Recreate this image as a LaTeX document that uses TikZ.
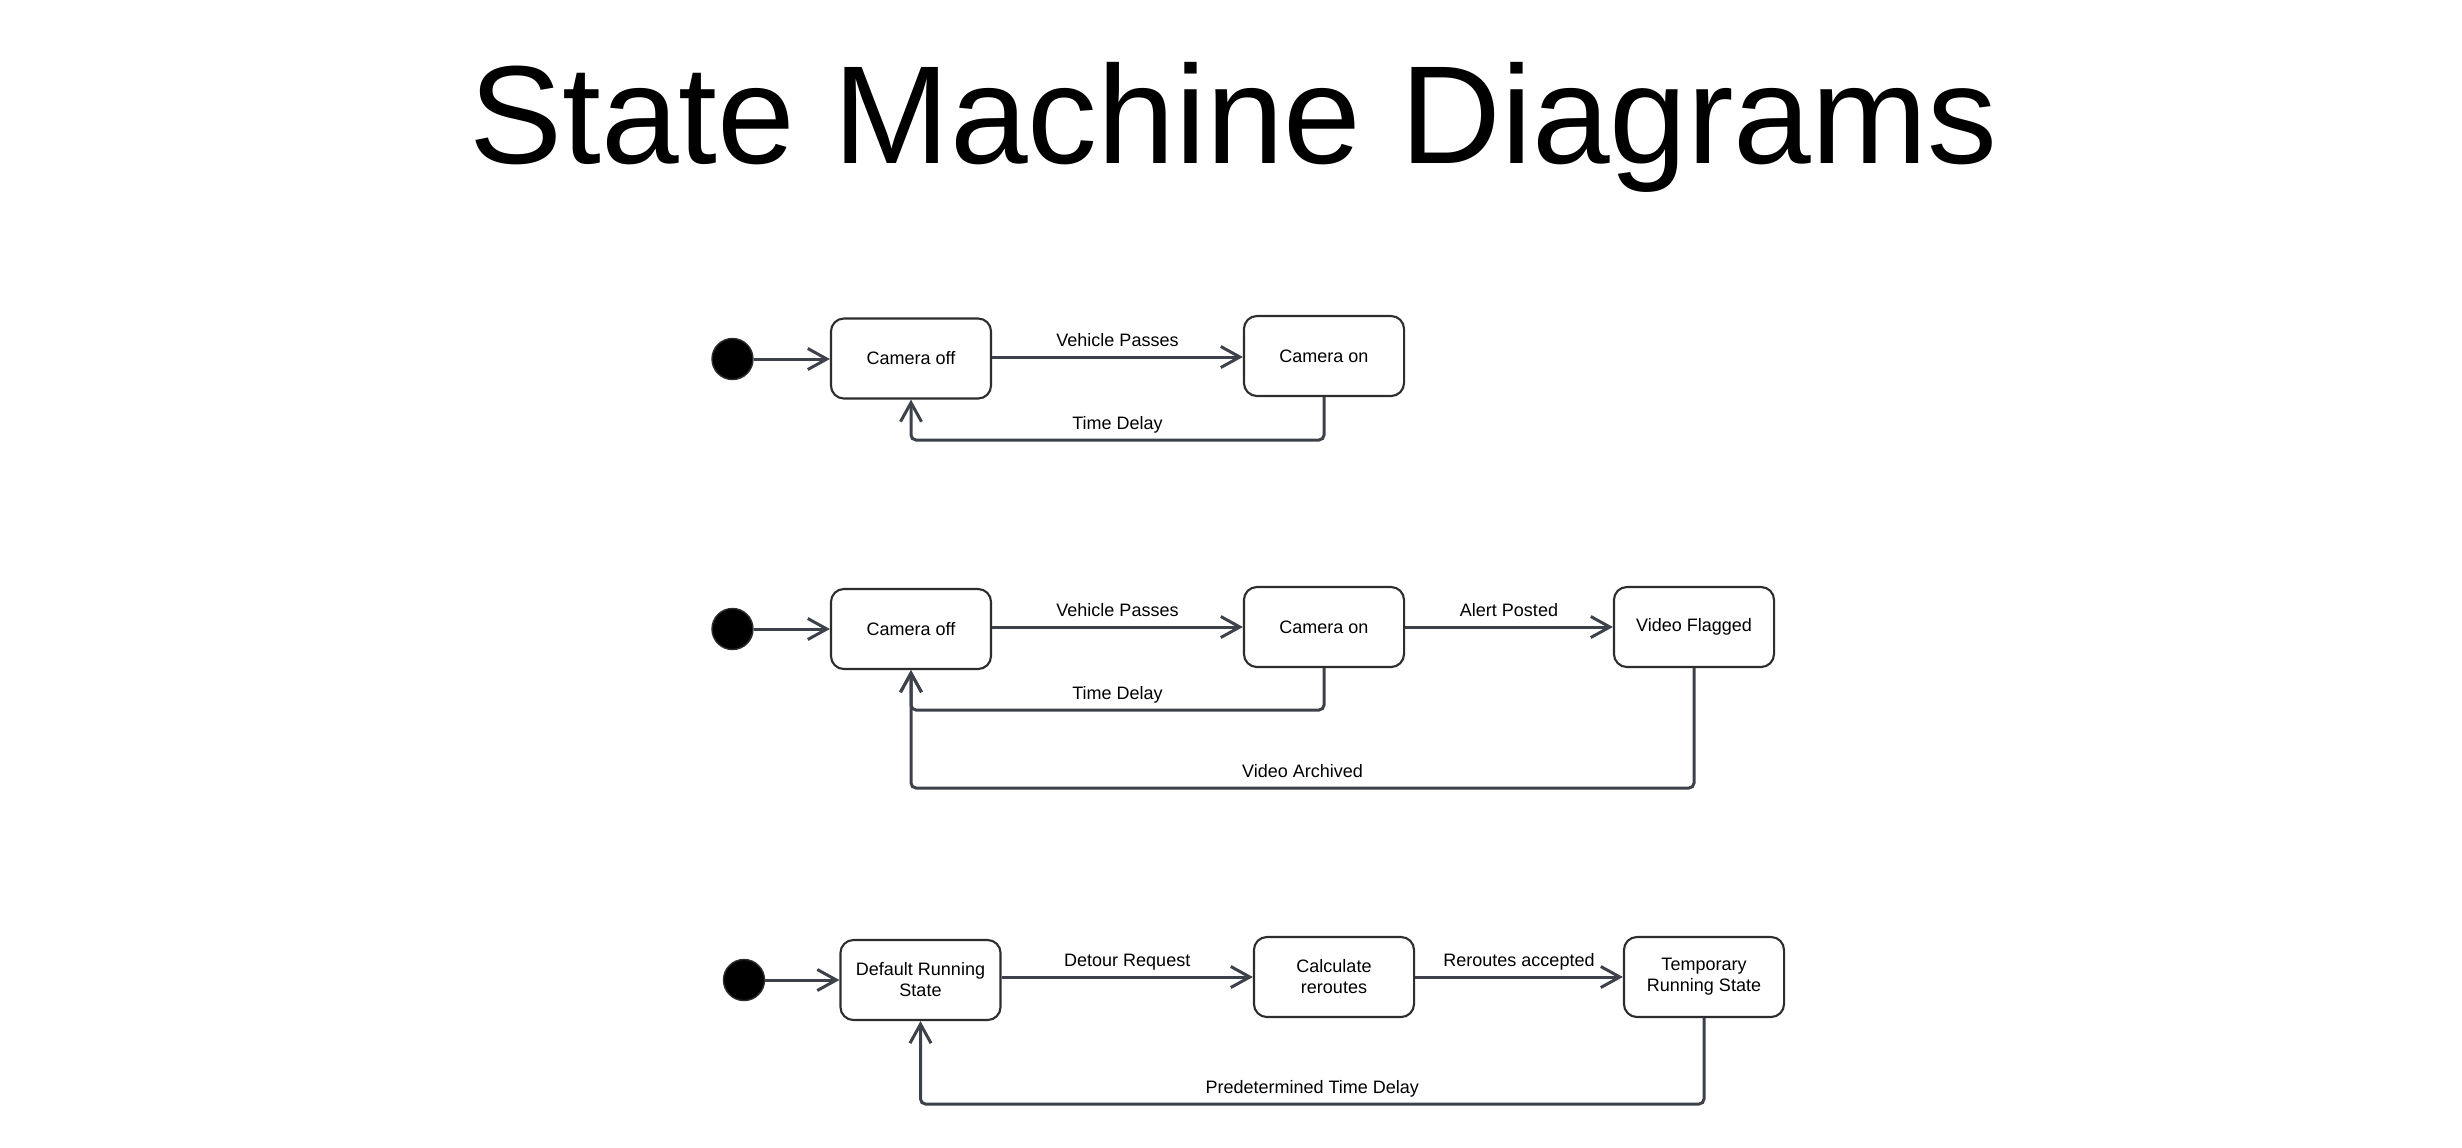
\documentclass[tikz,border=0pt]{standalone}
\usepackage{fontspec}
\setmainfont{Liberation Sans}
\usetikzlibrary{arrows.meta}
\definecolor{linec}{RGB}{60,65,74}
\definecolor{boxc}{RGB}{45,45,48}
\begin{document}
\begin{tikzpicture}[x=0.01cm,y=-0.01cm,
  state/.style={draw=boxc, line width=0.6pt, rounded corners=0.13cm,
    minimum width=1.6cm, minimum height=0.8cm, inner sep=0pt, align=center,
    font=\fontsize{5.12pt}{5.97pt}\selectfont, text=black},
  init/.style={circle, fill=black, draw=boxc, line width=0.4pt,
    minimum size=0.41cm, inner sep=0pt},
  conn/.style={draw=linec, line width=0.85pt,
    -{Straight Barb[length=0.19cm,width=0.21cm]}, rounded corners=0.05cm},
  lbl/.style={font=\fontsize{5.12pt}{6pt}\selectfont, inner sep=0pt,
    text=black, anchor=base, yshift=0.11cm},
]
\useasboundingbox (0,0) rectangle (2462,1147);
\fill[white] (0,0) rectangle (2462,1147);

\node[anchor=base, inner sep=0pt, font=\fontsize{39.7pt}{44pt}\selectfont]
  (title) at (1233.5,163) {State Machine Diagrams};

% ---- Diagram 1
\node[init] (i1) at (732.5,359) {};
\node[state] (d1off) at (911,358.5) {Camera off};
\node[state] (d1on) at (1324,356) {Camera on};
\coordinate (r1) at (0,440);
\draw[conn] (i1) -- (i1 -| d1off.west);
\draw[conn] (d1off.east |- 0,357) -- node[lbl] {Vehicle Passes} (d1on.west |- 0,357);
\draw[conn] (d1on.south) -- (d1on.south |- r1) -- node[lbl] {Time Delay} (d1off.south |- r1) -- (d1off.south);

% ---- Diagram 2
\node[init] (i2) at (732.5,629) {};
\node[state] (d2off) at (911,629) {Camera off};
\node[state] (d2on) at (1324,627) {Camera on};
\node[state] (d2flag) at (1694,627) {Video Flagged};
\coordinate (r2) at (0,710);
\coordinate (r3) at (0,788);
\draw[conn] (i2) -- (i2 -| d2off.west);
\draw[conn] (d2off.east |- d2on.west) -- node[lbl] {Vehicle Passes} (d2on.west);
\draw[conn] (d2on.east) -- node[lbl] {Alert Posted} (d2flag.west);
\draw[conn] (d2on.south) -- (d2on.south |- r2) -- node[lbl] {Time Delay} (d2off.south |- r2) -- (d2off.south);
\draw[conn] (d2flag.south) -- (d2flag.south |- r3) -- node[lbl] {Video Archived} (d2off.south |- r3) -- (d2off.south);

% ---- Diagram 3
\node[init] (i3) at (744,980) {};
\node[state] (d3def) at (920.5,980) {Default Running\\State};
\node[state] (d3calc) at (1334,977) {Calculate\\reroutes};
\node[state] (d3temp) at (1704,977) {Temporary\\Running State};
\coordinate (r4) at (0,1104);
\draw[conn] (i3) -- (i3 -| d3def.west);
\draw[conn] (d3def.east |- d3calc.west) -- node[lbl] {Detour Request} (d3calc.west);
\draw[conn] (d3calc.east) -- node[lbl] {Reroutes accepted} (d3temp.west);
\draw[conn] (d3temp.south) -- (d3temp.south |- r4) -- node[lbl] {Predetermined Time Delay} (d3def.south |- r4) -- (d3def.south);
\end{tikzpicture}
\end{document}
